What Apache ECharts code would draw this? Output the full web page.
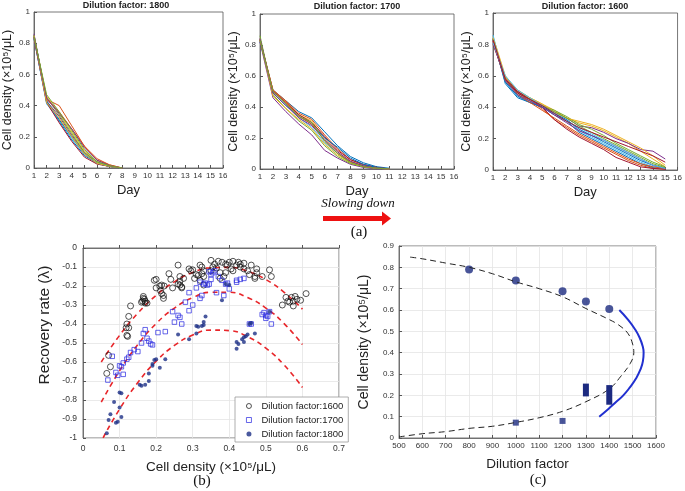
<!DOCTYPE html>
<html><head><meta charset="utf-8">
<script src="https://cdn.jsdelivr.net/npm/echarts@6/dist/echarts.min.js"></script>
<style>html,body{margin:0;padding:0;background:#fff}#c{width:685px;height:491px}</style>
</head><body><div id="c"></div>
<script>
// ---------- (a) time courses ----------
const days1800 = [1,2,3,4,5,6,7,8];
const days1700 = [1,2,3,4,5,6,7,8,9,10,11];
const days1600 = [1,2,3,4,5,6,7,8,9,10,11,12,13,14,15];
const matlabColors = ['#0072BD','#D95319','#EDB120','#7E2F8E','#77AC30','#4DBEEE','#A2142F'];

const runs1800 = [
  [0.83,0.42,0.30,0.18,0.08,0.03,0.01,0],
  [0.85,0.44,0.40,0.27,0.14,0.06,0.02,0],
  [0.84,0.46,0.35,0.23,0.11,0.04,0.01,0],
  [0.86,0.43,0.33,0.21,0.10,0.03,0.01,0],
  [0.85,0.45,0.34,0.22,0.10,0.04,0.01,0],
  [0.83,0.41,0.31,0.19,0.09,0.03,0.01,0],
  [0.83,0.42,0.29,0.17,0.07,0.025,0.01,0],
  [0.85,0.43,0.31,0.20,0.09,0.03,0.01,0],
  [0.84,0.44,0.36,0.25,0.14,0.05,0.02,0],
  [0.85,0.42,0.32,0.20,0.09,0.03,0.01,0],
  [0.84,0.45,0.35,0.25,0.13,0.05,0.015,0],
  [0.84,0.47,0.36,0.24,0.12,0.04,0.015,0]
];
const runs1700 = [
  [0.82,0.51,0.44,0.37,0.33,0.24,0.15,0.08,0.04,0.015,0.005],
  [0.84,0.51,0.44,0.36,0.32,0.22,0.13,0.06,0.025,0.01,0],
  [0.83,0.50,0.43,0.35,0.31,0.20,0.11,0.05,0.02,0.005,0],
  [0.82,0.46,0.37,0.29,0.22,0.12,0.07,0.03,0.01,0,0],
  [0.86,0.48,0.39,0.31,0.25,0.15,0.08,0.035,0.015,0.005,0],
  [0.83,0.50,0.42,0.33,0.27,0.17,0.10,0.045,0.02,0.005,0],
  [0.83,0.50,0.43,0.35,0.30,0.21,0.12,0.06,0.03,0.01,0],
  [0.84,0.49,0.41,0.34,0.29,0.20,0.14,0.07,0.03,0.01,0],
  [0.83,0.51,0.43,0.34,0.29,0.18,0.10,0.045,0.02,0.005,0],
  [0.84,0.47,0.39,0.32,0.26,0.16,0.09,0.04,0.015,0.005,0],
  [0.84,0.49,0.41,0.33,0.28,0.19,0.11,0.05,0.02,0.005,0],
  [0.83,0.50,0.42,0.34,0.30,0.18,0.10,0.04,0.015,0.005,0]
];
const runs1600 = [
  [0.84,0.55,0.46,0.43,0.40,0.35,0.31,0.24,0.20,0.16,0.12,0.08,0.04,0.015,0.01],
  [0.82,0.58,0.49,0.44,0.39,0.32,0.27,0.22,0.18,0.14,0.10,0.06,0.03,0.01,0.005],
  [0.85,0.60,0.50,0.46,0.42,0.38,0.33,0.30,0.28,0.25,0.21,0.17,0.12,0.07,0.02],
  [0.81,0.58,0.50,0.45,0.41,0.37,0.33,0.28,0.27,0.24,0.20,0.17,0.13,0.12,0.07],
  [0.83,0.57,0.49,0.45,0.41,0.38,0.34,0.29,0.26,0.22,0.17,0.13,0.09,0.05,0.02],
  [0.86,0.56,0.47,0.44,0.40,0.36,0.32,0.25,0.21,0.17,0.13,0.09,0.05,0.02,0.01],
  [0.80,0.59,0.50,0.45,0.40,0.32,0.26,0.21,0.17,0.13,0.08,0.05,0.02,0.01,0.005],
  [0.83,0.56,0.47,0.43,0.40,0.36,0.32,0.26,0.22,0.18,0.14,0.10,0.06,0.03,0.01],
  [0.82,0.57,0.48,0.43,0.38,0.33,0.28,0.23,0.19,0.15,0.11,0.07,0.04,0.02,0.01],
  [0.84,0.59,0.51,0.46,0.42,0.37,0.33,0.31,0.29,0.26,0.22,0.18,0.14,0.09,0.03],
  [0.82,0.57,0.48,0.44,0.40,0.35,0.30,0.25,0.22,0.19,0.15,0.11,0.07,0.03,0.01],
  [0.83,0.58,0.49,0.45,0.41,0.37,0.33,0.28,0.24,0.20,0.16,0.12,0.08,0.04,0.015],
  [0.81,0.60,0.51,0.46,0.41,0.36,0.31,0.27,0.23,0.19,0.15,0.11,0.07,0.03,0.01],
  [0.83,0.58,0.49,0.45,0.41,0.36,0.31,0.27,0.24,0.21,0.18,0.15,0.12,0.09,0.05]
];

// ---------- (b) recovery rate ----------
const df1600 = [
  [0.065,-0.66],[0.07,-0.565],[0.075,-0.625],
  [0.12,-0.40],[0.118,-0.42],[0.125,-0.42],[0.12,-0.46],[0.122,-0.465],[0.125,-0.36],[0.13,-0.305],
  [0.165,-0.255],[0.165,-0.265],[0.163,-0.28],[0.17,-0.28],[0.17,-0.29],[0.175,-0.29],[0.168,-0.27],[0.16,-0.285],
  [0.195,-0.17],[0.2,-0.165],[0.2,-0.21],[0.21,-0.2],[0.215,-0.195],[0.215,-0.24],[0.22,-0.25],[0.22,-0.265],[0.222,-0.2],[0.212,-0.225],
  [0.235,-0.135],[0.24,-0.165],[0.245,-0.21],[0.26,-0.09],[0.265,-0.15],[0.265,-0.175],[0.265,-0.195],[0.27,-0.205],[0.26,-0.19],[0.275,-0.16],[0.27,-0.21],
  [0.29,-0.11],[0.295,-0.12],[0.3,-0.115],[0.31,-0.14],[0.315,-0.145],[0.32,-0.09],[0.325,-0.1],[0.325,-0.135],[0.33,-0.12],[0.33,-0.15],[0.32,-0.17],[0.33,-0.195],[0.305,-0.16],
  [0.35,-0.065],[0.35,-0.12],[0.355,-0.1],[0.36,-0.085],[0.365,-0.105],[0.37,-0.07],[0.375,-0.13],[0.38,-0.075],[0.385,-0.15],[0.39,-0.085],[0.395,-0.09],[0.4,-0.075],[0.405,-0.11],[0.41,-0.07],[0.41,-0.12],[0.42,-0.09],[0.425,-0.075],[0.43,-0.085],[0.43,-0.1],[0.44,-0.08],[0.44,-0.11],[0.45,-0.12],[0.455,-0.14],[0.46,-0.09],[0.47,-0.15],[0.47,-0.16],[0.475,-0.11],[0.475,-0.13],[0.49,-0.15],[0.51,-0.115],[0.515,-0.15],[0.375,-0.16],[0.39,-0.13],
  [0.545,-0.3],[0.555,-0.26],[0.56,-0.28],[0.565,-0.285],[0.57,-0.26],[0.575,-0.305],[0.58,-0.255],[0.585,-0.27],[0.595,-0.275],[0.61,-0.24],[0.575,-0.28]
];
const df1700 = [
  [0.068,-0.695],[0.08,-0.57],[0.09,-0.655],[0.095,-0.67],[0.1,-0.62],[0.105,-0.625],[0.11,-0.605],[0.11,-0.665],[0.12,-0.585],[0.125,-0.575],[0.13,-0.55],[0.14,-0.535],[0.15,-0.545],[0.16,-0.5],[0.165,-0.45],[0.17,-0.43],[0.175,-0.475],[0.18,-0.49],[0.19,-0.51],[0.185,-0.505],
  [0.205,-0.445],[0.225,-0.44],[0.245,-0.335],[0.25,-0.39],[0.26,-0.355],[0.265,-0.365],[0.27,-0.40],[0.28,-0.285],[0.29,-0.33],[0.29,-0.235],[0.3,-0.3],[0.31,-0.21],[0.32,-0.265],[0.32,-0.18],[0.325,-0.25],[0.33,-0.19],[0.335,-0.185],[0.34,-0.195],[0.345,-0.19],[0.35,-0.165],[0.35,-0.14],[0.355,-0.13],[0.36,-0.12],[0.365,-0.235],[0.37,-0.15],[0.38,-0.17],[0.39,-0.19],[0.385,-0.25],[0.4,-0.215],[0.42,-0.17],[0.42,-0.18],[0.43,-0.165],[0.44,-0.16],[0.345,-0.125],[0.395,-0.185],
  [0.49,-0.35],[0.495,-0.34],[0.5,-0.37],[0.5,-0.355],[0.51,-0.335],[0.515,-0.4],[0.505,-0.36],[0.455,-0.4],[0.46,-0.4]
];
const df1800 = [
  [0.065,-0.975],[0.07,-0.905],[0.075,-0.875],[0.085,-0.81],[0.09,-0.92],[0.095,-0.915],[0.1,-0.84],[0.1,-0.76],[0.105,-0.765],[0.105,-0.89],
  [0.155,-0.72],[0.16,-0.725],[0.17,-0.72],[0.18,-0.7],[0.18,-0.66],[0.19,-0.61],[0.19,-0.62],[0.195,-0.59],[0.2,-0.585],[0.21,-0.63],[0.225,-0.585],
  [0.26,-0.455],[0.29,-0.48],[0.31,-0.41],[0.31,-0.45],[0.315,-0.415],[0.325,-0.41],[0.33,-0.405],[0.33,-0.39],[0.335,-0.36],[0.38,-0.275],[0.4,-0.195],[0.39,-0.19],
  [0.42,-0.53],[0.42,-0.495],[0.425,-0.505],[0.435,-0.48],[0.44,-0.495],[0.44,-0.47],[0.445,-0.465],[0.45,-0.455],[0.455,-0.4],[0.46,-0.395],[0.47,-0.45],[0.51,-0.335]
];
const fitX = [0.05,0.1,0.15,0.2,0.25,0.3,0.35,0.4,0.45,0.5,0.55,0.6];
const fit1600 = [-0.60,-0.46,-0.343,-0.249,-0.178,-0.129,-0.104,-0.102,-0.122,-0.166,-0.233,-0.322];
const fit1700 = [-0.811,-0.646,-0.508,-0.398,-0.316,-0.261,-0.233,-0.233,-0.261,-0.316,-0.398,-0.508];
const fit1800X = [0.055,0.1,0.15,0.2,0.25,0.3,0.35,0.4,0.45,0.5,0.55,0.6];
const fit1800 = [-0.999,-0.848,-0.708,-0.596,-0.513,-0.458,-0.432,-0.435,-0.467,-0.527,-0.616,-0.734];

// ---------- (c) bifurcation ----------
const branchX = [500,600,700,800,900,1000,1100,1200,1300,1400,1450,1490,1505,1500,1480,1440,1400,1300,1200,1100,1000,900,800,700,600,540];
const branchY = [0.005,0.02,0.03,0.045,0.055,0.073,0.095,0.125,0.17,0.23,0.29,0.35,0.40,0.44,0.49,0.53,0.555,0.607,0.662,0.70,0.732,0.77,0.80,0.82,0.84,0.849];
const blueX = [1443,1480,1510,1530,1543,1547,1544,1533,1515,1490,1460,1430,1395,1357];
const blueY = [0.60,0.555,0.51,0.47,0.43,0.40,0.36,0.32,0.28,0.24,0.20,0.17,0.135,0.10];
const highDF = [800,1000,1200,1300,1400];
const highDens = [0.79,0.738,0.688,0.64,0.605];
const lowDF = [1000,1200];
const lowDens = [0.072,0.08];
const boxDF = [1300,1400];
const boxLo = [0.195,0.156];
const boxHi = [0.255,0.248];

// ---------- build ----------
const FONT = 'Liberation Sans, Arial, sans-serif';
const SERIF = 'Liberation Serif, DejaVu Serif, serif';
const zip = (xs, ys) => xs.map((x, i) => [x, ys[i]]);
const fmt1 = v => String(+v.toFixed(1));

const grids = [
  {left:30, top:12, width:193, height:156},
  {left:260, top:14, width:194, height:155},
  {left:493, top:13, width:185, height:157},
  {left:83, top:248, width:256, height:190},
  {left:399, top:246, width:257, height:192}
];
grids.forEach(g => { g.show = true; g.borderColor = '#555'; g.borderWidth = 0.8; g.backgroundColor = '#fff'; g.containLabel = false; });

const axLine = {lineStyle:{color:'#555', width:0.8}};
const axTick = {inside:true, length:3, lineStyle:{color:'#555'}};

function topX(i){ return {gridIndex:i, type:'value', min:1, max:16, interval:1,
  name:'Day', nameLocation:'middle', nameGap:16, nameTextStyle:{fontSize:13, fontFamily:FONT, color:'#222'},
  axisLine:axLine, axisTick:axTick,
  axisLabel:{fontSize:8, color:'#333', margin:4, fontFamily:FONT}, splitLine:{show:false}}; }
function topY(i){ return {gridIndex:i, type:'value', min:0, max:1, interval:0.2,
  name:'Cell density (\u00d710\u2075/\u03bcL)', nameLocation:'middle', nameGap:20, nameTextStyle:{fontSize:12.5, fontFamily:FONT, color:'#222'},
  axisLine:axLine, axisTick:axTick,
  axisLabel:{fontSize:8, color:'#333', margin:4, fontFamily:FONT, formatter: fmt1}, splitLine:{show:false}}; }

const xAxes = [topX(0), topX(1), topX(2),
  {gridIndex:3, type:'value', min:0, max:0.7, interval:0.1,
   name:'Cell density (\u00d710\u2075/\u03bcL)', nameLocation:'middle', nameGap:22, nameTextStyle:{fontSize:13.5, fontFamily:FONT, color:'#222'},
   axisLine:axLine, axisTick:axTick,
   axisLabel:{fontSize:8.5, color:'#333', margin:6, fontFamily:FONT, formatter: fmt1},
   splitLine:{show:true, lineStyle:{color:'#e4e4e4', width:0.8}}},
  {gridIndex:4, type:'value', min:500, max:1600, interval:100,
   name:'Dilution factor', nameLocation:'middle', nameGap:19, nameTextStyle:{fontSize:13.5, fontFamily:FONT, color:'#222'},
   axisLine:axLine, axisTick:axTick,
   axisLabel:{fontSize:8, color:'#333', margin:4, fontFamily:FONT, formatter: v => String(v)},
   splitLine:{show:true, lineStyle:{color:'#e4e4e4', width:0.8}}}
];
const yAxes = [topY(0), topY(1), topY(2),
  {gridIndex:3, type:'value', min:-1, max:0, interval:0.1,
   name:'Recovery rate (\u03bb)', nameLocation:'middle', nameGap:30, nameTextStyle:{fontSize:15.5, fontFamily:FONT, color:'#222', padding:[0,0,0,36]},
   axisLine:axLine, axisTick:axTick,
   axisLabel:{fontSize:8.5, color:'#333', margin:6, fontFamily:FONT, formatter: fmt1},
   splitLine:{show:true, lineStyle:{color:'#e4e4e4', width:0.8}}},
  {gridIndex:4, type:'value', min:0, max:0.9, interval:0.1,
   name:'Cell density (\u00d710\u2075/\u03bcL)', nameLocation:'middle', nameGap:28, nameTextStyle:{fontSize:14, fontFamily:FONT, color:'#222'},
   axisLine:axLine, axisTick:axTick,
   axisLabel:{fontSize:8, color:'#333', margin:5, fontFamily:FONT, formatter: fmt1},
   splitLine:{show:true, lineStyle:{color:'#e4e4e4', width:0.8}}}
];

const series = [];
[[runs1800, days1800], [runs1700, days1700], [runs1600, days1600]].forEach(([runs, days], gi) => {
  runs.forEach((r, k) => series.push({type:'line', xAxisIndex:gi, yAxisIndex:gi, data: zip(days, r),
    symbol:'none', silent:true, lineStyle:{width:1, color: matlabColors[k % matlabColors.length]}}));
});
// (b)
[[fitX, fit1600], [fitX, fit1700], [fit1800X, fit1800]].forEach(([xs, ys]) => series.push({
  type:'line', xAxisIndex:3, yAxisIndex:3, data: zip(xs, ys), smooth:true, symbol:'none', silent:true, z:3,
  lineStyle:{color:'#e8262a', width:1.6, type:[5,4]}}));
series.push({type:'scatter', name:'Dilution factor:1600', xAxisIndex:3, yAxisIndex:3, data: df1600, symbol:'circle', symbolSize:6,
  itemStyle:{color:'rgba(0,0,0,0)', borderColor:'#111', borderWidth:0.9}, z:4});
series.push({type:'scatter', name:'Dilution factor:1700', xAxisIndex:3, yAxisIndex:3, data: df1700, symbol:'rect', symbolSize:4.5,
  itemStyle:{color:'rgba(0,0,0,0)', borderColor:'#2a2ae0', borderWidth:0.9}, z:4});
series.push({type:'scatter', name:'Dilution factor:1800', xAxisIndex:3, yAxisIndex:3, data: df1800, symbol:'circle', symbolSize:4,
  itemStyle:{color:'#1d2f86'}, z:4});
// (c)
series.push({type:'line', xAxisIndex:4, yAxisIndex:4, data: zip(branchX, branchY), smooth:0.4, symbol:'none', silent:true,
  lineStyle:{color:'#222', width:1, type:[6,4]}});
series.push({type:'line', xAxisIndex:4, yAxisIndex:4, data: zip(blueX, blueY), smooth:true, symbol:'none', silent:true,
  lineStyle:{color:'#2130d0', width:2}});
series.push({type:'scatter', xAxisIndex:4, yAxisIndex:4, data: zip(highDF, highDens), symbol:'circle', symbolSize:8,
  itemStyle:{color:'#1c2a80'}});
series.push({type:'scatter', xAxisIndex:4, yAxisIndex:4, data: zip(lowDF, lowDens), symbol:'rect', symbolSize:6,
  itemStyle:{color:'#1c2a80'}});
boxDF.forEach((d, i) => series.push({type:'line', xAxisIndex:4, yAxisIndex:4, data:[[d, boxLo[i]],[d, boxHi[i]]], symbol:'none', silent:true,
  lineStyle:{color:'#1c2a80', width:6, cap:'butt'}}));

const option = {
  animation:false,
  backgroundColor:'#fff',
  grid: grids, xAxis: xAxes, yAxis: yAxes, series,
  legend: {data:[
      {name:'Dilution factor:1600', itemStyle:{borderWidth:0.9}},
      {name:'Dilution factor:1700', itemStyle:{borderWidth:0.9}},
      {name:'Dilution factor:1800'}],
    orient:'vertical', left:235, top:397,
    itemWidth:5, itemHeight:5, itemGap:4, padding:[4,5,3,11], backgroundColor:'#fff', borderColor:'#999', borderWidth:0.8, borderRadius:0,
    textStyle:{fontSize:9.5, fontFamily:FONT, color:'#222', padding:[0,0,0,5]}},
  graphic: [
    {type:'text', style:{x:126, y:6, text:'Dilution factor: 1800', fontSize:9, fontWeight:'bold', fontFamily:FONT, fill:'#222', align:'center', verticalAlign:'middle'}},
    {type:'text', style:{x:357, y:7, text:'Dilution factor: 1700', fontSize:9, fontWeight:'bold', fontFamily:FONT, fill:'#222', align:'center', verticalAlign:'middle'}},
    {type:'text', style:{x:585, y:7, text:'Dilution factor: 1600', fontSize:9, fontWeight:'bold', fontFamily:FONT, fill:'#222', align:'center', verticalAlign:'middle'}},
    {type:'text', style:{x:358, y:204, text:'Slowing down', fontSize:13, fontStyle:'italic', fontFamily:SERIF, fill:'#111', align:'center', verticalAlign:'middle'}},
    {type:'rect', shape:{x:323, y:216, width:60, height:5}, style:{fill:'#ee1111'}},
    {type:'polygon', shape:{points:[[382,211.5],[391,218.5],[382,225.5]]}, style:{fill:'#ee1111'}},
    {type:'text', style:{x:359, y:232, text:'(a)', fontSize:15, fontFamily:SERIF, fill:'#111', align:'center', verticalAlign:'middle'}},
    {type:'text', style:{x:202, y:481, text:'(b)', fontSize:15, fontFamily:SERIF, fill:'#111', align:'center', verticalAlign:'middle'}},
    {type:'text', style:{x:538, y:480, text:'(c)', fontSize:15, fontFamily:SERIF, fill:'#111', align:'center', verticalAlign:'middle'}}
  ]
};
const chart = echarts.init(document.getElementById('c'), null, {renderer:'canvas'});
chart.setOption(option);
</script></body></html>
